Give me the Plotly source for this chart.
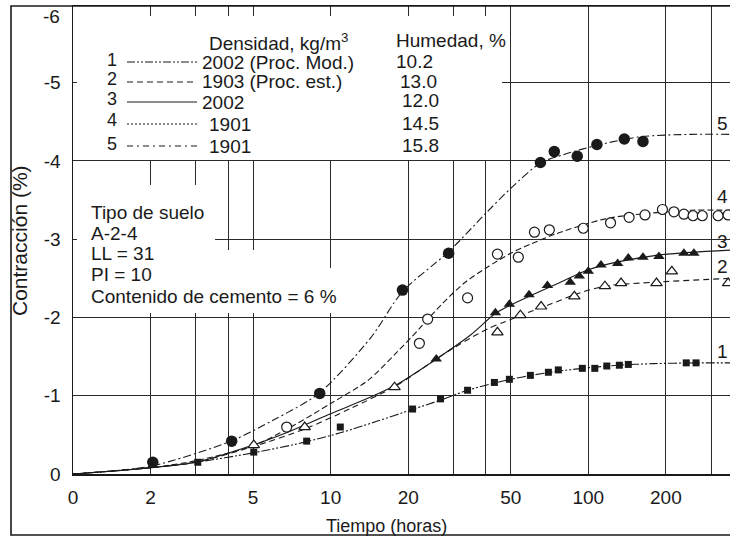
import plotly.graph_objects as go

# ---------------- data (time in hours, contraction in %) ----------------
# measured points
t1 = [3.05, 5.03, 8.07, 10.9, 20.8, 26.7, 34.0, 43.2, 49.4, 59.6, 70.0, 76.5, 94.8, 106, 118, 132, 143, 240, 262]
y1 = [-0.15, -0.28, -0.42, -0.60, -0.83, -0.96, -1.07, -1.17, -1.21, -1.26, -1.30, -1.33, -1.35, -1.35, -1.38, -1.39, -1.40, -1.42, -1.42]

t2 = [5.03, 7.93, 17.7, 44.4, 54.5, 65.6, 88.3, 116, 134, 184, 211, 349]
y2 = [-0.37, -0.60, -1.11, -1.81, -2.03, -2.14, -2.27, -2.40, -2.44, -2.44, -2.59, -2.44]

t3 = [25.7, 43.6, 49.4, 58.9, 69.4, 85.1, 92.3, 100, 112, 130, 143, 163, 188, 235, 257]
y3 = [-1.47, -2.06, -2.17, -2.29, -2.41, -2.45, -2.53, -2.59, -2.67, -2.69, -2.76, -2.77, -2.78, -2.82, -2.82]

t4 = [6.75, 22.1, 23.8, 34.0, 44.4, 53.5, 61.8, 70.6, 95.6, 122, 144, 166, 194, 215, 235, 255, 277, 319, 349]
y4 = [-0.60, -1.67, -1.98, -2.25, -2.81, -2.77, -3.09, -3.12, -3.14, -3.21, -3.28, -3.31, -3.38, -3.35, -3.32, -3.30, -3.30, -3.30, -3.31]

t5 = [2.04, 4.13, 9.07, 19.0, 28.7, 65.2, 73.8, 90.6, 108, 138, 163]
y5 = [-0.15, -0.42, -1.03, -2.35, -2.82, -3.98, -4.12, -4.06, -4.21, -4.28, -4.25]

# fitted curves
c1_t = [1, 2, 3, 5, 8, 11, 15, 21, 27, 34, 43, 50, 60, 75, 95, 130, 180, 260, 355]
c1_y = [0, -0.08, -0.15, -0.27, -0.41, -0.53, -0.67, -0.83, -0.95, -1.07, -1.16, -1.21, -1.26, -1.31, -1.35, -1.39, -1.41, -1.42, -1.42]

c2_t = [1, 2, 3, 5, 8, 12, 18, 26, 30, 35, 41, 47, 55, 78, 88, 116, 180, 355]
c2_y = [0, -0.08, -0.15, -0.35, -0.58, -0.84, -1.13, -1.48, -1.61, -1.74, -1.86, -1.94, -2.03, -2.22, -2.29, -2.40, -2.45, -2.50]

c3_t = [1, 2, 3, 5, 7, 10, 14, 18, 26, 35, 44, 58, 78, 100, 130, 190, 355]
c3_y = [0, -0.08, -0.15, -0.37, -0.55, -0.77, -0.97, -1.14, -1.48, -1.78, -2.06, -2.26, -2.45, -2.61, -2.71, -2.80, -2.86]

c4_t = [1, 2, 3, 5, 7, 10, 14, 18, 22, 27, 33, 40, 50, 60, 75, 95, 120, 170, 250, 355]
c4_y = [0, -0.08, -0.17, -0.36, -0.60, -0.90, -1.20, -1.55, -1.85, -2.17, -2.44, -2.63, -2.82, -2.94, -3.07, -3.18, -3.27, -3.33, -3.37, -3.37]

c5_t = [1, 2, 4.1, 6, 9, 14.3, 19, 28.7, 40.5, 50, 65, 80, 108, 160, 250, 355]
c5_y = [0, -0.10, -0.42, -0.69, -1.03, -1.74, -2.33, -2.84, -3.35, -3.65, -3.97, -4.08, -4.20, -4.31, -4.34, -4.34]

# axis ticks
x_tickvals = [1, 2, 5, 10, 20, 50, 100, 200]
x_ticktext = ["0", "2", "5", "10", "20", "50", "100", "200"]
x_minor_grid = [3, 4, 30, 40, 300]
y_tickvals = [0, -1, -2, -3, -4, -5]
y_ticktext = ["0", "-1", "-2", "-3", "-4", "-5"]

# legend contents
leg_num = ["1", "2", "3", "4", "5"]
leg_dens = ["2002 (Proc. Mod.)", "1903 (Proc. est.)", "2002", "1901", "1901"]
leg_hum = ["10.2", "13.0", "12.0", "14.5", "15.8"]
soil_lines = ["Tipo de suelo", "A-2-4", "LL = 31", "PI = 10", "Contenido de cemento = 6 %"]

# ---------------- styling ----------------
FONT = "Liberation Sans, Arial, sans-serif"
INK = "#1a1a1a"
GRID = "#2a2a2a"
FS = 19
W, H = 730, 537
L, R, T, B = 73, 0, 6, 63
PW, PH = W - L - R, H - T - B


def px(x):
    return (x - L) / PW


def py(y):
    return (T + PH - y) / PH


dash_curve = {
    1: "9px,2px,2px,2px,2px,2px",
    2: "6px,4px",
    3: "solid",
    4: "6px,3px",
    5: "8px,3px,2px,3px",
}
dash_legend = {
    1: "8px,2px,2px,2px,2px,2px",
    2: "6px,4px",
    3: "solid",
    4: "2px,2px",
    5: "6px,4px,2px,4px",
}

fig = go.Figure()

curves = [(c1_t, c1_y, 1), (c2_t, c2_y, 2), (c3_t, c3_y, 3), (c4_t, c4_y, 4), (c5_t, c5_y, 5)]
for ct, cy, k in curves:
    fig.add_trace(go.Scatter(x=ct, y=cy, mode="lines",
                             line=dict(color=INK, width=1.1, dash=dash_curve[k], shape="spline", smoothing=0.8),
                             showlegend=False, hoverinfo="skip"))

fig.add_trace(go.Scatter(x=t1, y=y1, mode="markers", marker=dict(symbol="square", size=7, color=INK), showlegend=False))
fig.add_trace(go.Scatter(x=t2, y=y2, mode="markers",
                         marker=dict(symbol="triangle-up", size=10, color="white", line=dict(color=INK, width=1.2)), showlegend=False))
fig.add_trace(go.Scatter(x=t3, y=y3, mode="markers", marker=dict(symbol="triangle-up", size=10, color=INK), showlegend=False))
fig.add_trace(go.Scatter(x=t4, y=y4, mode="markers",
                         marker=dict(symbol="circle", size=10, color="white", line=dict(color=INK, width=1.2)), showlegend=False))
fig.add_trace(go.Scatter(x=t5, y=y5, mode="markers", marker=dict(symbol="circle", size=11.5, color=INK), showlegend=False))

shapes = []
# white boxes behind the text blocks (hide grid there)
for (x0, y0, x1, y1_) in [(77, 16, 502, 160), (77, 185, 215, 313), (215, 250, 300, 313), (300, 268, 345, 313)]:
    shapes.append(dict(type="rect", xref="paper", yref="paper", x0=px(x0), x1=px(x1), y0=py(y1_), y1=py(y0),
                       fillcolor="white", line=dict(width=0), layer="above"))
# outer frame of the figure
shapes.append(dict(type="rect", xref="paper", yref="paper", x0=px(11), x1=px(760), y0=py(535), y1=py(6),
                   fillcolor="rgba(0,0,0,0)", line=dict(color=INK, width=1.6), layer="above"))

annotations = []


def txt(text, x, y, xanchor="left", size=FS, **kw):
    annotations.append(dict(text=text, x=px(x), y=py(y), xref="paper", yref="paper", xanchor=xanchor, yanchor="middle",
                            showarrow=False, font=dict(family=FONT, size=size, color=INK), **kw))


# legend block
row_y = [62, 82, 102, 124, 146]
num_y = [60, 79, 99, 120, 144]
dens_x = [200, 200, 200, 207, 207]
hum_x = [394, 398, 400, 400, 400]
txt("Densidad, kg/m<sup>3</sup>", 207, 42)
txt("Humedad, %", 394, 41)
for i in range(5):
    txt(leg_num[i], 112, num_y[i], xanchor="center", size=18)
    shapes.append(dict(type="line", xref="paper", yref="paper", x0=px(127), x1=px(197), y0=py(row_y[i]), y1=py(row_y[i]),
                       line=dict(color=INK, width=1.1, dash=dash_legend[i + 1]), layer="above"))
    txt(leg_dens[i], dens_x[i], row_y[i])
    txt(leg_hum[i], hum_x[i], row_y[i] - 1)

# soil info block
for s, yy in zip(soil_lines, [212, 233, 253, 274, 296]):
    txt(s, 89, yy)

# curve labels at right
for lab, yy in zip(["5", "4", "3", "2", "1"], [123, 196, 241, 266, 351]):
    txt(lab, 722, yy, xanchor="center")

# "-6" label at top of y axis
txt("-6", 62, 16, xanchor="right")
# axis titles
txt("Tiempo (horas)", 386, 526, xanchor="center", size=18)
annotations.append(dict(text="Contracción (%)", x=px(19), y=py(241), xref="paper", yref="paper", xanchor="center",
                        yanchor="middle", textangle=-90, showarrow=False, font=dict(family=FONT, size=21, color=INK)))

fig.update_layout(
    width=W, height=H,
    margin=dict(l=L, r=R, t=T, b=B, pad=0),
    paper_bgcolor="white", plot_bgcolor="white",
    font=dict(family=FONT, size=FS, color=INK),
    shapes=shapes, annotations=annotations,
    showlegend=False,
)
fig.update_xaxes(type="log", range=[0, 2.55], tickmode="array", tickvals=x_tickvals, ticktext=x_ticktext,
                 showgrid=True, gridcolor=GRID, gridwidth=1, zeroline=False,
                 minor=dict(tickmode="array", tickvals=x_minor_grid, showgrid=True, gridcolor=GRID, gridwidth=1, ticks=""),
                 showline=True, linecolor=INK, linewidth=1.5, mirror=True, ticks="", ticklabelstandoff=6,
                 tickfont=dict(family=FONT, size=FS, color=INK))
fig.update_yaxes(range=[0, -5.98], tickmode="array", tickvals=y_tickvals, ticktext=y_ticktext,
                 showgrid=True, gridcolor=GRID, gridwidth=1, zeroline=False,
                 showline=True, linecolor=INK, linewidth=1.5, mirror=False, ticks="", ticklabelstandoff=7,
                 tickfont=dict(family=FONT, size=FS, color=INK))

fig.write_html("out.html", config={"displayModeBar": False, "staticPlot": True},
               post_script="document.body.style.margin='0';document.body.style.overflow='hidden';")
